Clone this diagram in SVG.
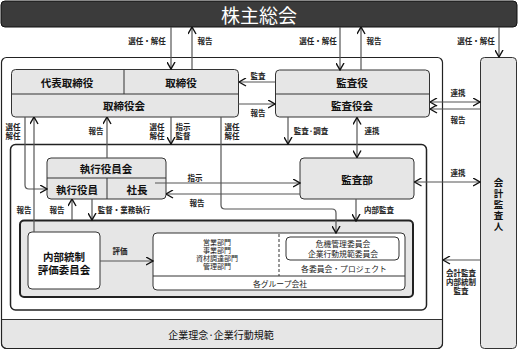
<svg xmlns="http://www.w3.org/2000/svg" width="518" height="351" viewBox="0 0 518 351">
<style>
.t{font-family:"Noto Sans CJK JP","Noto Sans",sans-serif;text-anchor:middle;dominant-baseline:central;fill:#111}
.b{font-size:10.5px;font-weight:700}
.v{font-size:9.5px;font-weight:700;writing-mode:vertical-rl;letter-spacing:1.3px}
.l{font-size:7.5px;font-weight:700;fill:#222}
.s{font-size:7.8px;fill:#222}
.p{font-size:7px;fill:#222}
.g{fill:#e6e6e6;stroke:#333;stroke-width:1}
.w{fill:#fff;stroke:#333;stroke-width:1}
.d{fill:none;stroke:#333;stroke-width:1}
.c{fill:none;stroke:#555;stroke-width:1.2}
.a{marker-end:url(#ah)}
.aa{marker-end:url(#ah);marker-start:url(#ah)}
</style>
<defs>
<marker id="ah" viewBox="0 0 8 9" refX="7.5" refY="4.5" markerWidth="8" markerHeight="9" markerUnits="userSpaceOnUse" orient="auto-start-reverse">
<path d="M0.5,0.5 L7.5,4.5 L0.5,8.5" fill="none" stroke="#111" stroke-width="1.4"/>
</marker>
</defs>

<g id="shareholders">
<rect x="1" y="1" width="516" height="26" rx="4" fill="#3b3b3b" stroke="#111"/>
<text class="t" x="259" y="14" style="font-size:19px;fill:#fff">株主総会</text>
</g>

<g id="company">
<rect x="1.5" y="57.5" width="441" height="291" rx="5" fill="#fff"/>
<path d="M1.5,319.5 H442.5 V343.5 A5,5 0 0 1 437.5,348.5 H6.5 A5,5 0 0 1 1.5,343.5 Z" fill="#e6e6e6" stroke="#333"/>
<rect x="1.5" y="57.5" width="441" height="291" rx="5" fill="none" stroke="#222" stroke-width="1.2"/>
<text class="t" x="221" y="334" style="font-size:10px">企業理念·企業行動規範</text>
</g>

<g id="inner">
<rect x="10.5" y="144.5" width="416" height="165.5" rx="5" fill="none" stroke="#222" stroke-width="1.5"/>
</g>

<g id="group">
<rect x="20" y="220.5" width="393" height="76.5" rx="4" fill="#e6e6e6" stroke="#222" stroke-width="2"/>
</g>

<g id="board">
<rect class="g" x="11.5" y="69.5" width="227" height="47.5" rx="4"/>
<path class="d" d="M11.5,94 H238.5 M124,69.5 V94"/>
<text class="t b" x="67" y="82">代表取締役</text>
<text class="t b" x="181" y="82">取締役</text>
<text class="t b" x="124" y="105">取締役会</text>
</g>

<g id="auditboard">
<rect class="g" x="275.5" y="70" width="154" height="47" rx="4"/>
<path class="d" d="M275.5,94 H429.5"/>
<text class="t b" x="352" y="82">監査役</text>
<text class="t b" x="352" y="105">監査役会</text>
</g>

<g id="accountingauditor">
<rect class="g" x="480.5" y="57.5" width="36" height="291" rx="4"/>
<text class="t v" x="498.5" y="205">会計監査人</text>
</g>

<g id="executive">
<rect class="g" x="47" y="158" width="119" height="41" rx="4"/>
<path class="d" d="M47,178 H166 M107,178 V199"/>
<text class="t b" x="106" y="168">執行役員会</text>
<text class="t b" x="77" y="189">執行役員</text>
<text class="t b" x="137" y="189">社長</text>
</g>

<g id="auditdept">
<rect class="g" x="300" y="158" width="114" height="41" rx="4"/>
<text class="t b" x="357" y="179">監査部</text>
</g>

<g id="internalcontrol">
<rect class="w" x="28" y="232" width="72" height="57" rx="4"/>
<text class="t b" x="64" y="256">内部統制<tspan x="64" dy="13">評価委員会</tspan></text>
</g>

<g id="groupcompanies">
<rect class="w" x="153" y="233" width="252" height="57" rx="4"/>
<path class="d" d="M153,276 H405"/>
<path d="M279,234 V276" stroke="#333" stroke-dasharray="3,2" fill="none"/>
<text class="t p" x="217" y="242">営業部門<tspan x="217" dy="8">事業部門</tspan><tspan x="217" dy="8">資材調達部門</tspan><tspan x="217" dy="8">管理部門</tspan></text>
<text class="t s" x="280" y="283">各グループ会社</text>
<text class="t s" x="344" y="268">各委員会・プロジェクト</text>
</g>

<g id="committees">
<rect class="w" x="286" y="237" width="113" height="23" rx="4"/>
<text class="t s" x="343" y="243">危機管理委員会<tspan x="343" dy="10">企業行動規範委員会</tspan></text>
</g>

<g id="connectors">
<path class="c a" d="M171,27 V69"/>
<path class="c a" d="M192,69 V27"/>
<path class="c a" d="M340,27 V70"/>
<path class="c a" d="M361,70 V27"/>
<path class="c a" d="M499,27 V57"/>
<path class="c a" d="M275,82 H239"/>
<path class="c a" d="M238,104 H275"/>
<path class="c aa" d="M430,102 H480"/>
<path class="c a" d="M480,109 H430"/>
<path class="c a" d="M288,117 V144"/>
<path class="c aa" d="M357,117.5 V157.5"/>
<path class="c a" d="M171,117 V144"/>
<path class="c a" d="M221,117 V205 Q221,209 225,209 H332 Q336,209 336,213 V233"/>
<path class="c a" d="M25,117 V185 Q25,189 29,189 H47"/>
<path class="c a" d="M34,232 V117"/>
<path class="c a" d="M107,158 V117"/>
<path class="c a" d="M72,220 V199"/>
<path class="c a" d="M92,199 V220"/>
<path class="c a" d="M100,261 H153"/>
<path class="c a" d="M155,183 H300"/>
<path class="c a" d="M300,194 H166"/>
<path class="c aa" d="M414.5,182 H480"/>
<path class="c a" d="M356,199 V221"/>
<path class="c a" d="M480,260 H443"/>
</g>

<g id="labels">
<text class="t l" x="147" y="40">選任・解任</text>
<text class="t l" x="205" y="40">報告</text>
<text class="t l" x="318" y="40">選任・解任</text>
<text class="t l" x="374" y="40">報告</text>
<text class="t l" x="476" y="40">選任・解任</text>
<text class="t l" x="258" y="75">監査</text>
<text class="t l" x="258" y="112">報告</text>
<text class="t l" x="458" y="92">連携</text>
<text class="t l" x="458" y="119">報告</text>
<text class="t l" x="311" y="130">監査·調査</text>
<text class="t l" x="372" y="130">連携</text>
<text class="t l" x="13" y="126">選任<tspan x="13" dy="9">解任</tspan></text>
<text class="t l" x="96" y="130">報告</text>
<text class="t l" x="157" y="126">選任<tspan x="157" dy="9">解任</tspan></text>
<text class="t l" x="183" y="126">指示<tspan x="183" dy="9">監督</tspan></text>
<text class="t l" x="232" y="126">選任<tspan x="232" dy="9">解任</tspan></text>
<text class="t l" x="195" y="177">指示</text>
<text class="t l" x="197" y="202">報告</text>
<text class="t l" x="458" y="172">連携</text>
<text class="t l" x="24" y="209">報告</text>
<text class="t l" x="57" y="209">報告</text>
<text class="t l" x="124" y="209">監督・業務執行</text>
<text class="t l" x="379" y="209">内部監査</text>
<text class="t l" x="120" y="250">評価</text>
<text class="t l" x="461" y="272">会計監査<tspan x="461" dy="9">内部統制</tspan><tspan x="461" dy="9">監査</tspan></text>
</g>
</svg>
